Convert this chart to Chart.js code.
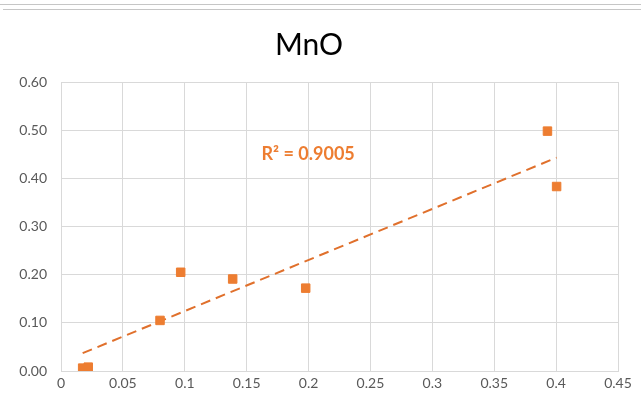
<!DOCTYPE html>
<html>
<head>
<meta charset="utf-8">
<script src="https://cdn.jsdelivr.net/npm/chart.js@4"></script>
<style>
html,body{margin:0;padding:0;background:#fff;}
#wrap{position:relative;width:641px;height:414px;overflow:hidden;}
.rule{position:absolute;left:0;width:641px;height:1px;background:#c6c6c6;}
canvas{position:absolute;left:0;top:0;}
</style>
</head>
<body>
<div id="wrap">
<canvas id="c" width="641" height="414"></canvas>
<div class="rule" style="top:4px"></div>
<div class="rule" style="top:9px;left:3px"></div>
</div>
<script>
// MnO scatter, values
const title='MnO';
const xVals=[0.0175,0.022,0.080,0.0967,0.1387,0.1977,0.393,0.4004];
const yVals=[0.006,0.008,0.105,0.205,0.191,0.172,0.498,0.383];
const trendX=[0.0175,0.4004];
const trendY=[0.037,0.443];
const xTicks=[0,0.05,0.1,0.15,0.2,0.25,0.3,0.35,0.4,0.45];
const yTicks=[0,0.1,0.2,0.3,0.4,0.5,0.6];
const r2Label='R² = 0.9005';

const orange='#ED7D31';
const font='Lato, "Liberation Sans", sans-serif';

const r2Plugin={
 id:'r2',
 afterDatasetsDraw(chart){
  const {ctx,scales:{x,y}}=chart;
  ctx.save();
  ctx.font='bold 18px '+font;
  ctx.fillStyle=orange;
  ctx.textBaseline='middle';
  ctx.fillText(r2Label,x.getPixelForValue(0.162),y.getPixelForValue(0.450));
  ctx.restore();
 }
};

new Chart(document.getElementById('c'),{
 type:'scatter',
 data:{datasets:[
  {
   data:xVals.map((v,i)=>({x:v,y:yVals[i]})),
   pointStyle:'rect',
   pointRadius:6,
   pointBackgroundColor:orange,
   pointBorderColor:orange,
   pointBorderWidth:1,
   showLine:false,
   order:1
  },
  {
   data:trendX.map((v,i)=>({x:v,y:trendY[i]})),
   showLine:true,
   borderColor:'#E0702C',
   borderWidth:2,
   borderDash:[10,6],
   pointRadius:0,
   order:2
  }
 ]},
 options:{
  responsive:false,
  animation:false,
  layout:{padding:{top:0,right:23,left:0,bottom:0}},
  plugins:{
   legend:{display:false},
   tooltip:{enabled:false},
   title:{display:true,text:title,color:'#000',font:{family:font,size:30,weight:'normal'},padding:{top:27,bottom:19}}
  },
  scales:{
   x:{
    type:'linear',min:0,max:0.45,
    afterBuildTicks:s=>{s.ticks=xTicks.map(v=>({value:v}));},
    afterFit:s=>{s.height=43;},
    grid:{color:'#d9d9d9',drawTicks:false},
    border:{color:'#d9d9d9'},
    ticks:{color:'#595959',font:{family:font,size:14},padding:4,maxRotation:0,
     callback:v=>String(Number(v.toFixed(2)))}
   },
   y:{
    min:0,max:0.6,
    afterBuildTicks:s=>{s.ticks=yTicks.map(v=>({value:v}));},
    afterFit:s=>{s.width=61;},
    grid:{color:'#d9d9d9',drawTicks:false},
    border:{color:'#d9d9d9'},
    ticks:{color:'#595959',font:{family:font,size:14},padding:14,
     callback:v=>v.toFixed(2)}
   }
  }
 },
 plugins:[r2Plugin]
});
</script>
</body>
</html>
